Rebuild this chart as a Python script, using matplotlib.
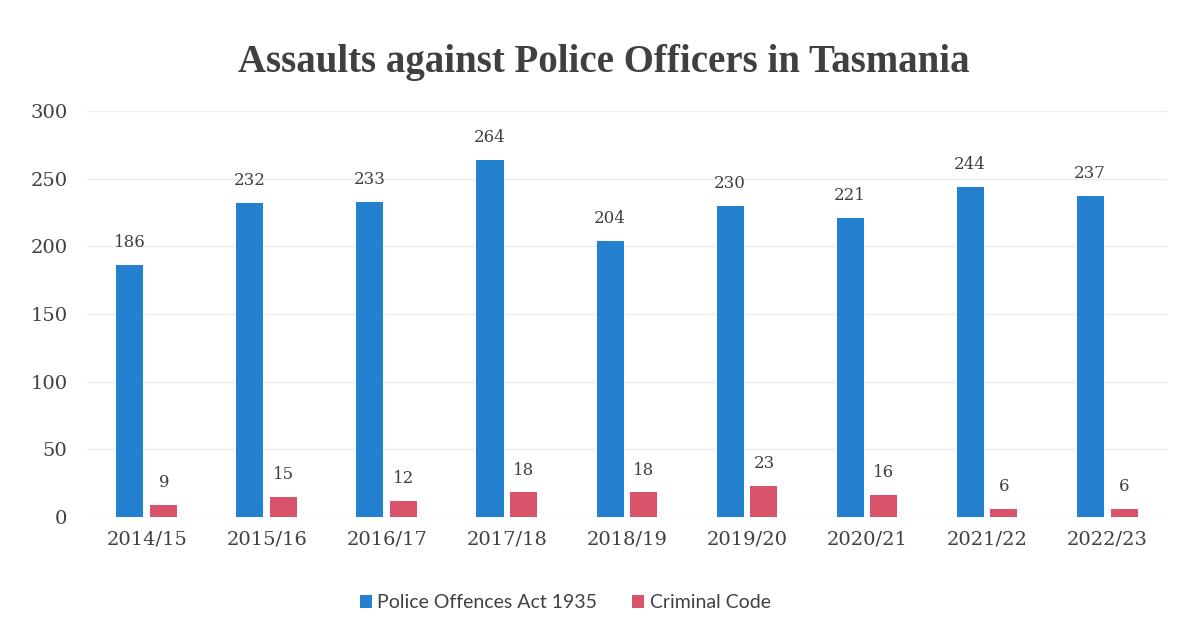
import matplotlib.pyplot as plt
import numpy as np

# data
years = ["2014/15", "2015/16", "2016/17", "2017/18", "2018/19",
         "2019/20", "2020/21", "2021/22", "2022/23"]
police_offences = [186, 232, 233, 264, 204, 230, 221, 244, 237]
criminal_code = [9, 15, 12, 18, 18, 23, 16, 6, 6]

blue = "#2381cf"
red = "#d9536b"
serif = "DejaVu Serif"

fig = plt.figure(figsize=(11.83, 6.28), dpi=100)
ax = fig.add_axes([0.0735, 0.177, 0.913, 0.6465])

x = np.arange(len(years))
w = 0.225
gap = 0.058
b1 = ax.bar(x - (w + gap) / 2, police_offences, w, color=blue, label="Police Offences Act 1935")
b2 = ax.bar(x + (w + gap) / 2, criminal_code, w, color=red, label="Criminal Code")

for bars in (b1, b2):
    for r in bars:
        ax.annotate(f"{int(r.get_height())}", (r.get_x() + r.get_width() / 2, r.get_height()),
                    xytext=(0, 10), textcoords="offset points", ha="center", va="bottom",
                    fontsize=12, family=serif, color="#404040")

ax.set_xlim(-0.5, len(years) - 0.5)
ax.set_ylim(0, 300)
ax.set_yticks(range(0, 301, 50))
ax.set_xticks(x)
ax.set_xticklabels(years)
ax.tick_params(length=0, labelsize=14, colors="#404040", pad=10)
for lab in ax.get_xticklabels() + ax.get_yticklabels():
    lab.set_family(serif)
ax.tick_params(axis="y", pad=14)

ax.grid(axis="y", color="#ececec", linewidth=1)
ax.set_axisbelow(True)
for s in ax.spines.values():
    s.set_visible(False)

fig.text(0.51, 0.9, "Assaults against Police Officers in Tasmania", ha="center", va="center",
         fontsize=28, fontweight="bold", family="Liberation Serif", color="#404040")

fig.legend(loc="center", bbox_to_anchor=(0.478, 0.04), ncol=2, frameon=False,
           prop={"family": "Lato", "size": 14}, handlelength=0.6, handleheight=0.6,
           handletextpad=0.3, columnspacing=1.8, labelcolor="#404040")

fig.savefig("out.png", dpi=100)
